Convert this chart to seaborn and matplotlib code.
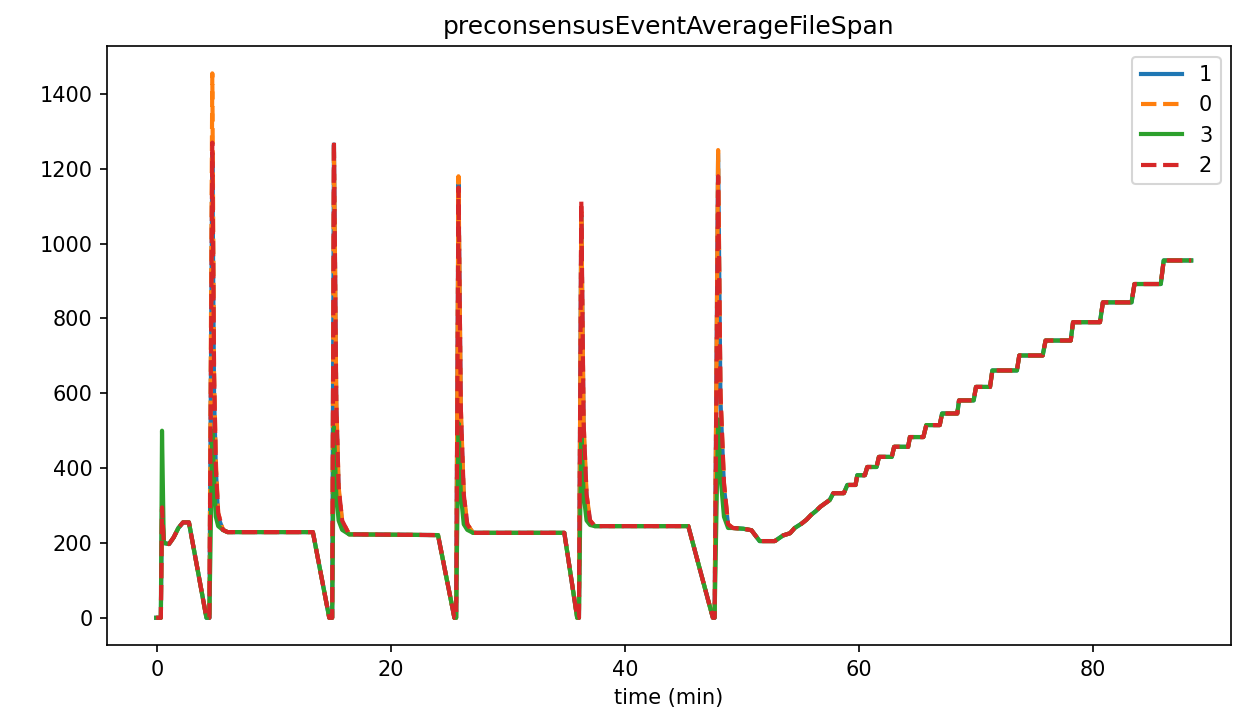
import matplotlib
matplotlib.use("Agg")
import matplotlib.pyplot as plt
import seaborn as sns
import pandas as pd

# shared time axis (minutes)
time_min = [
    -0.1, 0.3, 0.4, 0.55, 1.0, 1.4, 1.8, 2.2, 2.7, 4.2, 4.45,
    4.7, 4.85, 5.0, 5.2, 5.6, 6.0, 13.3, 14.7, 14.95,
    15.1, 15.3, 15.5, 15.8, 16.4, 24.0, 25.4, 25.55,
    25.75, 25.95, 26.2, 26.5, 27.0, 34.8, 35.9, 36.05,
    36.25, 36.45, 36.7, 37.0, 37.4, 45.4, 47.5, 47.65,
    47.95, 48.15, 48.45, 48.8, 49.2, 50.1, 50.8, 51.5, 52.8, 53.5,
    54.1, 54.5, 55.1, 55.5, 55.9, 56.3, 56.7, 57.1, 57.5, 57.8, 58.7,
    59.0, 59.7, 59.85, 60.5, 60.7, 61.5, 61.7, 62.8, 63.0, 64.2,
    64.35, 65.5, 65.75, 66.9, 67.1, 68.4, 68.55, 69.8, 70.0, 71.2,
    71.4, 73.5, 73.7, 75.7, 75.95, 78.1, 78.3, 80.6, 80.85, 83.3,
    83.55, 85.8, 86.05, 88.4,
]

# values common to all nodes (spike points are overridden below)
shared_val = [
    0, 0, 290, 200, 197, 215, 240, 255, 255, 0, 0,
    1250, 600, 400, 270, 235, 229, 229, 0, 0,
    1265, 560, 340, 255, 223, 221, 0, 0,
    1160, 540, 320, 248, 227, 227, 0, 0,
    1075, 500, 320, 258, 245, 245, 0, 0,
    1240, 580, 350, 248, 240, 238, 234, 205, 205, 220,
    226, 240, 252, 262, 275, 285, 297, 306, 315, 333, 333,
    355, 355, 381, 381, 403, 403, 430, 430, 457, 457,
    483, 483, 515, 515, 546, 546, 581, 581, 617, 617,
    661, 661, 701, 701, 741, 741, 790, 790, 843, 843,
    892, 892, 955, 955,
]

# indices of spike points and node-specific values there
spike_idx = [2, 11, 12, 13, 14, 20, 21, 22, 23, 28, 29, 30, 31,
             36, 37, 38, 39, 44, 45, 46, 47]
spike_vals_1 = [290, 1240, 600, 400, 270, 1265, 560, 340, 255, 1160, 540, 320, 248,
                1075, 500, 320, 258, 1240, 580, 350, 248]
spike_vals_0 = [290, 1455, 650, 420, 280, 1260, 580, 350, 260, 1180, 560, 330, 250,
                1085, 520, 330, 260, 1250, 600, 360, 250]
spike_vals_3 = [500, 500, 370, 270, 245, 510, 330, 260, 235, 520, 330, 250, 235,
                500, 330, 260, 248, 530, 380, 270, 240]
spike_vals_2 = [295, 1270, 660, 400, 280, 1275, 580, 350, 260, 1150, 560, 330, 250,
                1115, 520, 330, 260, 1180, 600, 360, 250]

nodes = ["1", "0", "3", "2"]
spike_table = {"1": spike_vals_1, "0": spike_vals_0, "3": spike_vals_3, "2": spike_vals_2}

rows = []
for n in nodes:
    vals = list(shared_val)
    for i, v in zip(spike_idx, spike_table[n]):
        vals[i] = v
    for t, v in zip(time_min, vals):
        rows.append({"time": t, "value": v, "node": n})
df = pd.DataFrame(rows)

fig, ax = plt.subplots(figsize=(1239 / 150, 721 / 150), dpi=150)
fig.subplots_adjust(left=0.0864, right=0.9935, top=0.936, bottom=0.1054)

palette = {"1": "#1f77b4", "0": "#ff7f0e", "3": "#2ca02c", "2": "#d62728"}
dashes = {"1": "", "0": (3.7, 1.6), "3": "", "2": (3.7, 1.6)}
sns.lineplot(data=df, x="time", y="value", hue="node", style="node",
             hue_order=nodes, style_order=nodes, palette=palette, dashes=dashes,
             linewidth=2, sort=False, estimator=None, ax=ax)

ax.set_xlim(-4.3, 91.8)
ax.set_title("preconsensusEventAverageFileSpan")
ax.set_xlabel("time (min)")
ax.set_ylabel("")
sns.move_legend(ax, "upper right", title=None)

fig.savefig("out.png", dpi=150)
